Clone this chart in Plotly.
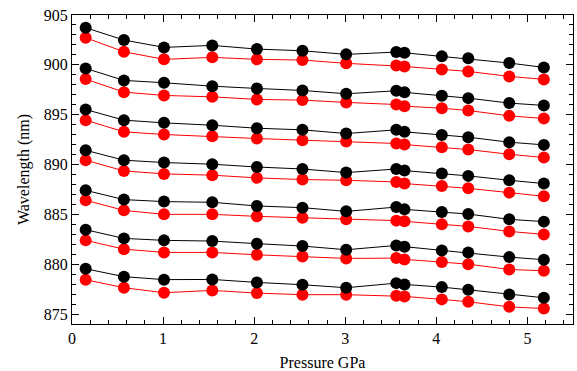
import plotly.graph_objects as go

pressure = [0.15, 0.57, 1.01, 1.54, 2.03, 2.53, 3.01, 3.56, 3.65, 4.06, 4.35, 4.80, 5.18]

black_series = [
    [903.72, 902.49, 901.75, 901.95, 901.58, 901.41, 901.05, 901.28, 901.21, 900.85, 900.65, 900.18, 899.74],
    [899.64, 898.44, 898.20, 897.86, 897.63, 897.43, 897.10, 897.40, 897.24, 896.90, 896.66, 896.16, 895.93],
    [895.52, 894.45, 894.18, 893.94, 893.64, 893.48, 893.11, 893.48, 893.28, 892.97, 892.74, 892.24, 891.97],
    [891.43, 890.43, 890.20, 890.03, 889.75, 889.55, 889.19, 889.55, 889.39, 889.09, 888.86, 888.42, 888.09],
    [887.41, 886.48, 886.28, 886.21, 885.84, 885.67, 885.30, 885.73, 885.50, 885.23, 885.03, 884.50, 884.27],
    [883.46, 882.59, 882.39, 882.32, 882.06, 881.82, 881.45, 881.88, 881.76, 881.38, 881.18, 880.71, 880.45],
    [879.54, 878.75, 878.45, 878.47, 878.17, 877.94, 877.64, 878.10, 877.97, 877.70, 877.43, 876.96, 876.63],
]

red_series = [
    [902.72, 901.31, 900.55, 900.75, 900.55, 900.48, 900.15, 899.94, 899.84, 899.54, 899.34, 898.84, 898.54],
    [898.57, 897.26, 896.93, 896.79, 896.53, 896.46, 896.23, 896.02, 895.85, 895.65, 895.42, 894.88, 894.62],
    [894.45, 893.28, 893.01, 892.84, 892.61, 892.44, 892.31, 892.11, 892.00, 891.73, 891.50, 891.03, 890.70],
    [890.43, 889.36, 889.06, 888.93, 888.66, 888.49, 888.42, 888.25, 888.09, 887.85, 887.61, 887.18, 886.81],
    [886.41, 885.40, 885.00, 885.00, 884.80, 884.67, 884.50, 884.37, 884.30, 884.00, 883.79, 883.29, 882.99],
    [882.39, 881.51, 881.18, 881.18, 880.94, 880.78, 880.58, 880.61, 880.48, 880.21, 880.00, 879.47, 879.34],
    [878.44, 877.64, 877.14, 877.37, 877.10, 876.94, 876.94, 876.84, 876.77, 876.47, 876.23, 875.72, 875.55],
]

fig = go.Figure()
for ys in red_series:
    fig.add_trace(go.Scatter(x=pressure, y=ys, mode="lines+markers",
                             line=dict(color="#ff0000", width=1),
                             marker=dict(color="#ff0000", size=12),
                             showlegend=False))
for ys in black_series:
    fig.add_trace(go.Scatter(x=pressure, y=ys, mode="lines+markers",
                             line=dict(color="#000000", width=1),
                             marker=dict(color="#000000", size=12),
                             showlegend=False))

font = dict(family="'Liberation Serif', 'Times New Roman', Times, serif", size=16, color="#000")
axis_common = dict(showline=True, linecolor="#000", linewidth=1, mirror="allticks",
                   ticks="inside", ticklen=7, tickcolor="#000", showgrid=False,
                   zeroline=False, tickfont=font, automargin=False)

fig.update_layout(
    width=577, height=371,
    margin=dict(l=72, r=4, t=15, b=47),
    paper_bgcolor="white", plot_bgcolor="white",
    font=font,
    xaxis=dict(range=[0, 5.5], dtick=1, tick0=0,
               minor=dict(dtick=0.2, ticks="inside", ticklen=4, tickcolor="#000"),
               title=dict(text="Pressure GPa", font=font, standoff=15),
               **axis_common),
    yaxis=dict(range=[874, 905], dtick=5, tick0=875,
               minor=dict(dtick=1, ticks="inside", ticklen=4, tickcolor="#000"),
               title=dict(text="Wavelength (nm)", font=font, standoff=10),
               **axis_common),
)

fig.write_html("out.html", config={"displayModeBar": False},
               post_script="document.body.style.margin='0px';document.body.style.overflow='hidden';")
